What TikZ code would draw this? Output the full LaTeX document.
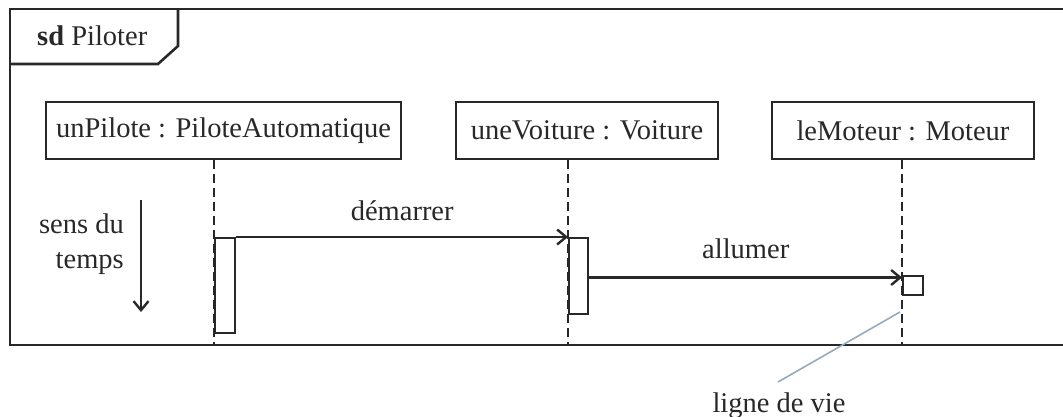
\documentclass[tikz,border=0pt]{standalone}
\usepackage{fontspec}
\setmainfont{Liberation Serif}
\usetikzlibrary{arrows.meta}
\definecolor{ink}{RGB}{40,40,40}
\definecolor{notecol}{RGB}{150,170,188}
\tikzset{
  frame/.style={draw=ink, line width=2.6pt},
  objbox/.style={draw=ink, line width=2.6pt, minimum height=57pt, inner sep=0pt, text=ink},
  lifeline/.style={draw=ink, line width=2.4pt, dash pattern=on 9pt off 5pt},
  actbox/.style={draw=ink, line width=2.4pt, fill=white, inner sep=0pt},
  msg/.style={draw=ink, line width=2.4pt, -{Straight Barb[length=9pt,width=15pt,line width=2.4pt]}},
  lbl/.style={text=ink, inner sep=0pt},
  notelink/.style={draw=notecol, line width=1.6pt},
}
\begin{document}
\begin{tikzpicture}[x=1pt,y=-1pt, font=\fontsize{28.5}{35}\selectfont]
\useasboundingbox (0,0) rectangle (1063,417);
\begin{scope}
\clip (0,0) rectangle (1063,417);
% frame
\draw[frame] (1080,9) -- (10,9) -- (10,345) -- (1080,345);
\draw[frame] (10,64) -- (158,64) -- (178,46) -- (178,9);
\end{scope}
\node[lbl, anchor=base west] (title) at (37,46) {\textbf{sd} Piloter};

% objects
\node[objbox, minimum width=355pt] (p) at (223.5,130.5) {unPilote : PiloteAutomatique};
\node[objbox, minimum width=262pt] (v) at (587,130.5) {uneVoiture : Voiture};
\node[objbox, minimum width=262pt] (m) at (903,130.5) {leMoteur : Moteur};

% lifelines
\coordinate (pe) at (214,345);
\coordinate (ve) at (568,345);
\coordinate (me) at (902,345);
\draw[lifeline] (p.south -| pe) -- (pe);
\draw[lifeline] (v.south -| ve) -- (ve);
\draw[lifeline] (m.south -| me) -- (me);

% activations
\node[actbox, minimum width=20pt, minimum height=95pt, anchor=north west] (pa) at (214,237) {};
\node[actbox, minimum width=19pt, minimum height=76pt, anchor=north west] (va) at (568,237) {};
\node[actbox, minimum width=20pt, minimum height=19pt, anchor=north west] (ma) at (902,275) {};
\coordinate (mt) at ([yshift=-2.5pt]ma.north west);

% messages
\draw[msg] (pa.north east) -- (va.north west) node[lbl, midway, above=15pt] (dm) {démarrer};
\draw[msg] (va.east |- mt) -- (mt) node[lbl, midway, above=18pt] (al) {allumer};

% time direction
\node[lbl, align=right, anchor=east] (sens) at (124,244) {sens du\\temps};
\coordinate (ts) at (141,200);
\coordinate (te) at (141,312);
\draw[msg] (ts) -- (te);

% note
\node[lbl, anchor=base] (lv) at (779,412) {ligne de vie};
\coordinate (np) at (900,312);
\draw[notelink] (np) -- (778,382);
\end{tikzpicture}
\end{document}
